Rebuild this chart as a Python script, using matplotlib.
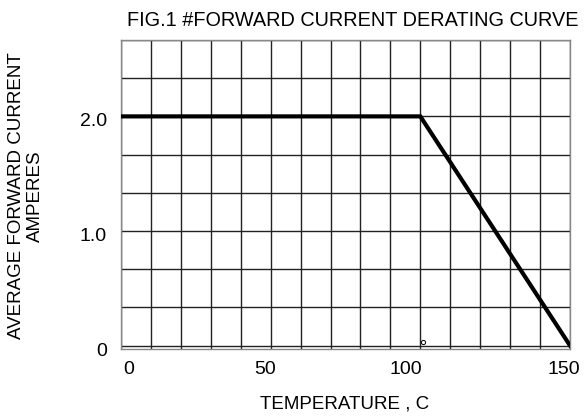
import matplotlib
matplotlib.use("Agg")
import matplotlib.pyplot as plt

plt.rcParams["font.family"] = ["Liberation Sans", "DejaVu Sans"]

# derating curve points
temp = [0, 100, 150]
current = [2.0, 2.0, 0.0]

# grid lines: every 10 C, every 1/3 A
x_grid = list(range(0, 151, 10))
y_grid = [i / 3 for i in range(0, 9)]

# tick labels sit a bit off their nominal positions in the original
x_tick_pos = [2.7, 48.3, 95.2, 147.8]
x_tick_labels = ["0", "50", "100", "150"]
y_tick_pos = [-0.03, 0.97, 1.97]
y_tick_labels = ["0", "1.0", "2.0"]

fig = plt.figure(figsize=(5.88, 4.16), dpi=100)
ax = fig.add_axes([121 / 588, 1 - 349 / 416, 449 / 588, 309 / 416])

for x in x_grid:
    ax.axvline(x, color="#222222", lw=1.0, zorder=1)
for y in y_grid:
    ax.axhline(y, color="#222222", lw=1.0, zorder=1)

ax.plot(temp, current, color="black", lw=3.0, solid_joinstyle="miter", zorder=3)
ax.plot([101], [0.03], marker="o", ms=3, mfc="white", mec="black", mew=0.7, zorder=4)

ax.set_xlim(0, 150)
ax.set_ylim(0, 8 / 3)
ax.set_xticks(x_tick_pos)
ax.set_xticklabels(x_tick_labels, fontsize=14)
ax.set_yticks(y_tick_pos)
ax.set_yticklabels(y_tick_labels, fontsize=14)
ax.tick_params(axis="x", length=0, pad=8.5)
ax.tick_params(axis="y", length=0, pad=10)
for s in ax.spines.values():
    s.set_color("#888888")
    s.set_linewidth(1.0)

fig.text(353 / 588, 1 - 20 / 416, "FIG.1 #FORWARD CURRENT DERATING CURVE",
         ha="center", va="center", fontsize=14.3)
fig.text(345 / 588, 1 - 404 / 416, "TEMPERATURE , C", ha="center", va="center", fontsize=13.5)
fig.text(26 / 588, 1 - 196 / 416, "AVERAGE FORWARD CURRENT\nAMPERES", rotation=90,
         ha="center", va="center", multialignment="center", fontsize=13.5, linespacing=1.15)

fig.savefig("out.png", dpi=100, facecolor="white")
